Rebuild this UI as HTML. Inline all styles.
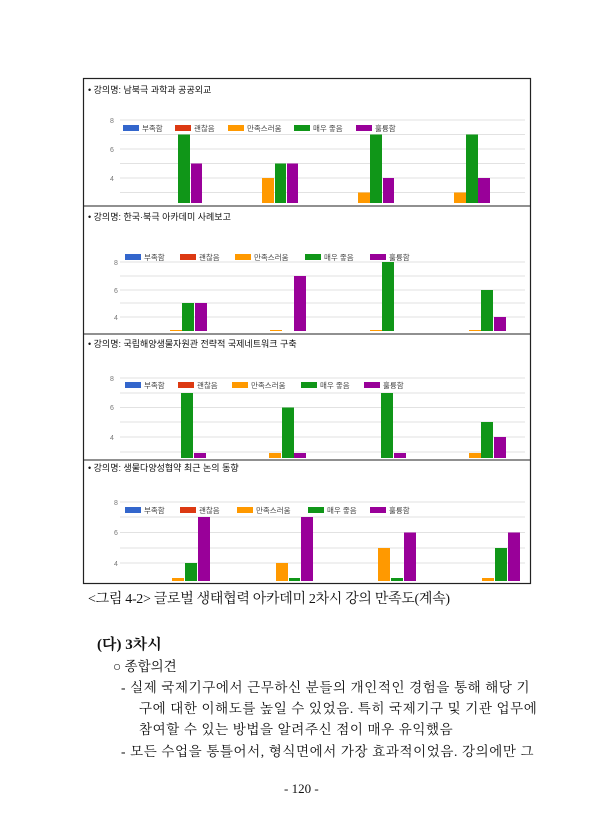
<!DOCTYPE html>
<html><head><meta charset="utf-8"><style>
body{margin:0;background:#fff;width:610px;height:840px;overflow:hidden;position:relative;font-family:"Liberation Serif","Noto Serif CJK SC","Noto Sans CJK KR",serif;color:#111}
.t{position:absolute;white-space:nowrap;font-size:13.5px}
</style></head><body>
<svg width="610" height="590" style="position:absolute;left:0;top:0" font-family="Liberation Sans, Noto Sans CJK KR, sans-serif">
<rect x="83.5" y="78.5" width="447" height="505" fill="#fff" stroke="#222" stroke-width="1.2"/>
<line x1="83" y1="206" x2="531" y2="206" stroke="#222"/>
<line x1="83" y1="334" x2="531" y2="334" stroke="#222"/>
<line x1="83" y1="460" x2="531" y2="460" stroke="#222"/>
<g font-size="9" fill="#111">
<text x="88" y="93">• 강의명: 남북극 과학과 공공외교</text>
<text x="88" y="220">• 강의명: 한국·북극 아카데미 사례보고</text>
<text x="88" y="347">• 강의명: 국립해양생물자원관 전략적 국제네트워크 구축</text>
<text x="88" y="471">• 강의명: 생물다양성협약 최근 논의 동향</text>
</g>
<g stroke="#e2e2e2" stroke-width="1">
<line x1="120" y1="120" x2="525" y2="120"/><line x1="120" y1="134.5" x2="525" y2="134.5"/><line x1="120" y1="149" x2="525" y2="149"/><line x1="120" y1="163.5" x2="525" y2="163.5"/><line x1="120" y1="178" x2="525" y2="178"/><line x1="120" y1="192.5" x2="525" y2="192.5"/>
<line x1="120" y1="262" x2="525" y2="262"/><line x1="120" y1="276" x2="525" y2="276"/><line x1="120" y1="290" x2="525" y2="290"/><line x1="120" y1="303" x2="525" y2="303"/><line x1="120" y1="317" x2="525" y2="317"/>
<line x1="120" y1="378" x2="525" y2="378"/><line x1="120" y1="393" x2="525" y2="393"/><line x1="120" y1="407.5" x2="525" y2="407.5"/><line x1="120" y1="422" x2="525" y2="422"/><line x1="120" y1="437" x2="525" y2="437"/><line x1="120" y1="452" x2="525" y2="452"/>
<line x1="120" y1="502" x2="525" y2="502"/><line x1="120" y1="517" x2="525" y2="517"/><line x1="120" y1="532.5" x2="525" y2="532.5"/><line x1="120" y1="548" x2="525" y2="548"/><line x1="120" y1="563" x2="525" y2="563"/>
</g>
<g font-size="7" fill="#777">
<text x="110" y="123">8</text><text x="110" y="152">6</text><text x="110" y="181">4</text>
<text x="114" y="265">8</text><text x="114" y="293">6</text><text x="114" y="320">4</text>
<text x="110" y="381">8</text><text x="110" y="410">6</text><text x="110" y="440">4</text>
<text x="114" y="505">8</text><text x="114" y="535">6</text><text x="114" y="566">4</text>
</g>
<g font-size="7.5" fill="#444">
<g transform="translate(123,125)"><rect width="16" height="6" fill="#3366cc"/><text x="19" y="6">부족함</text><rect x="52" width="16" height="6" fill="#dc3912"/><text x="71" y="6">괜찮음</text><rect x="105" width="16" height="6" fill="#ff9900"/><text x="124" y="6">만족스러움</text><rect x="171" width="16" height="6" fill="#109618"/><text x="190" y="6">매우 좋음</text><rect x="233" width="16" height="6" fill="#990099"/><text x="252" y="6">훌륭함</text></g>
<g transform="translate(125,254)"><rect width="16" height="6" fill="#3366cc"/><text x="19" y="6">부족함</text><rect x="55" width="16" height="6" fill="#dc3912"/><text x="74" y="6">괜찮음</text><rect x="110" width="16" height="6" fill="#ff9900"/><text x="129" y="6">만족스러움</text><rect x="180" width="16" height="6" fill="#109618"/><text x="199" y="6">매우 좋음</text><rect x="245" width="16" height="6" fill="#990099"/><text x="264" y="6">훌륭함</text></g>
<g transform="translate(125,382)"><rect width="16" height="6" fill="#3366cc"/><text x="19" y="6">부족함</text><rect x="53" width="16" height="6" fill="#dc3912"/><text x="72" y="6">괜찮음</text><rect x="107" width="16" height="6" fill="#ff9900"/><text x="126" y="6">만족스러움</text><rect x="176" width="16" height="6" fill="#109618"/><text x="195" y="6">매우 좋음</text><rect x="239" width="16" height="6" fill="#990099"/><text x="258" y="6">훌륭함</text></g>
<g transform="translate(125,507)"><rect width="16" height="6" fill="#3366cc"/><text x="19" y="6">부족함</text><rect x="55" width="16" height="6" fill="#dc3912"/><text x="74" y="6">괜찮음</text><rect x="112" width="16" height="6" fill="#ff9900"/><text x="131" y="6">만족스러움</text><rect x="183" width="16" height="6" fill="#109618"/><text x="202" y="6">매우 좋음</text><rect x="245" width="16" height="6" fill="#990099"/><text x="264" y="6">훌륭함</text></g>
</g>
<rect x="178" y="134.5" width="12" height="68.5" fill="#109618"/><rect x="191" y="163.5" width="11" height="39.5" fill="#990099"/>
<rect x="262" y="178" width="12" height="25" fill="#ff9900"/><rect x="275" y="163.5" width="11" height="39.5" fill="#109618"/><rect x="287" y="163.5" width="11" height="39.5" fill="#990099"/>
<rect x="358" y="192.5" width="12" height="10.5" fill="#ff9900"/><rect x="370" y="134.5" width="12" height="68.5" fill="#109618"/><rect x="383" y="178" width="11" height="25" fill="#990099"/>
<rect x="454" y="192.5" width="12" height="10.5" fill="#ff9900"/><rect x="466" y="134.5" width="12" height="68.5" fill="#109618"/><rect x="478" y="178" width="12" height="25" fill="#990099"/>
<rect x="170" y="330" width="12" height="1" fill="#ff9900"/><rect x="182" y="303" width="12" height="28" fill="#109618"/><rect x="195" y="303" width="12" height="28" fill="#990099"/>
<rect x="270" y="330" width="12" height="1" fill="#ff9900"/><rect x="294" y="276" width="12" height="55" fill="#990099"/>
<rect x="370" y="330" width="12" height="1" fill="#ff9900"/><rect x="382" y="262" width="12" height="69" fill="#109618"/>
<rect x="469" y="330" width="12" height="1" fill="#ff9900"/><rect x="481" y="290" width="12" height="41" fill="#109618"/><rect x="494" y="317" width="12" height="14" fill="#990099"/>
<rect x="181" y="393" width="12" height="65" fill="#109618"/><rect x="194" y="453" width="12" height="5" fill="#990099"/>
<rect x="269" y="453" width="12" height="5" fill="#ff9900"/><rect x="282" y="407.5" width="12" height="50.5" fill="#109618"/><rect x="294" y="453" width="12" height="5" fill="#990099"/>
<rect x="381" y="393" width="12" height="65" fill="#109618"/><rect x="394" y="453" width="12" height="5" fill="#990099"/>
<rect x="469" y="453" width="12" height="5" fill="#ff9900"/><rect x="481" y="422" width="12" height="36" fill="#109618"/><rect x="494" y="437" width="12" height="21" fill="#990099"/>
<rect x="172" y="578" width="12" height="3" fill="#ff9900"/><rect x="185" y="563" width="12" height="18" fill="#109618"/><rect x="198" y="517" width="12" height="64" fill="#990099"/>
<rect x="276" y="563" width="12" height="18" fill="#ff9900"/><rect x="289" y="578" width="11" height="3" fill="#109618"/><rect x="301" y="517" width="12" height="64" fill="#990099"/>
<rect x="378" y="548" width="12" height="33" fill="#ff9900"/><rect x="391" y="578" width="12" height="3" fill="#109618"/><rect x="404" y="532.5" width="12" height="48.5" fill="#990099"/>
<rect x="482" y="578" width="12" height="3" fill="#ff9900"/><rect x="495" y="548" width="12" height="33" fill="#109618"/><rect x="508" y="532.5" width="12" height="48.5" fill="#990099"/>
</svg>
<div class="t" style="left:88px;top:588px;font-size:14px;letter-spacing:-0.3px">&lt;그림 4-2&gt; 글로벌 생태협력 아카데미 2차시 강의 만족도(계속)</div>
<div class="t" style="left:97px;top:633px;font-size:15px;font-weight:bold">(다) 3차시</div>
<div class="t" style="left:113px;top:655px">○ 종합의견</div>
<div class="t" style="left:121px;top:676px;letter-spacing:0.6px">- 실제 국제기구에서 근무하신 분들의 개인적인 경험을 통해 해당 기</div>
<div class="t" style="left:139px;top:697px;letter-spacing:0.6px">구에 대한 이해도를 높일 수 있었음. 특히 국제기구 및 기관 업무에</div>
<div class="t" style="left:139px;top:718px;letter-spacing:0.6px">참여할 수 있는 방법을 알려주신 점이 매우 유익했음</div>
<div class="t" style="left:121px;top:740px;letter-spacing:0.6px">- 모든 수업을 통틀어서, 형식면에서 가장 효과적이었음. 강의에만 그</div>
<div class="t" style="left:284px;top:781px;font-size:13px">- 120 -</div>
</body></html>
